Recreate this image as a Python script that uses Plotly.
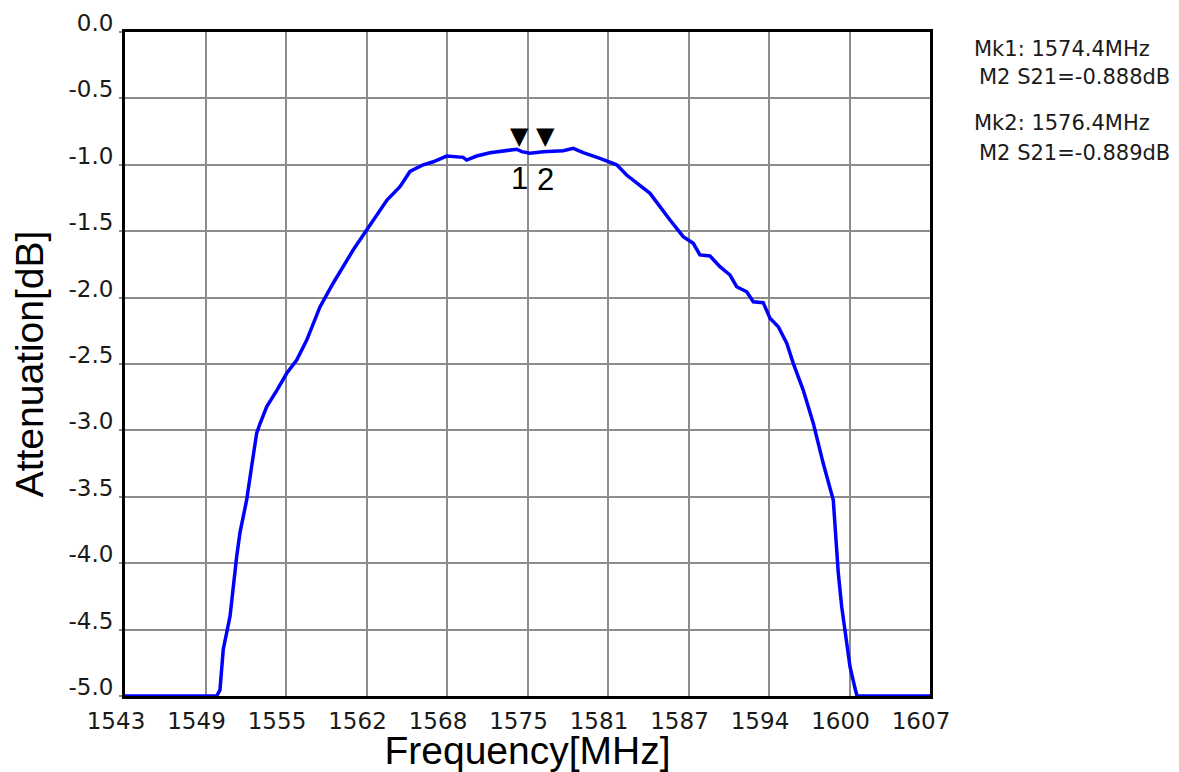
import plotly.graph_objects as go

# ---- data ----
freq_mhz = [1543.0, 1550.29, 1550.55, 1550.81, 1551.35, 1551.61, 1551.88, 1552.14, 1552.68,
            1553.07, 1553.47, 1553.73, 1554.27, 1555.06, 1555.86, 1556.65, 1557.45, 1558.50,
            1559.56, 1561.15, 1562.22, 1563.83, 1564.86, 1565.66, 1566.71, 1567.51, 1568.57,
            1569.89, 1570.16, 1570.96, 1572.02, 1573.61, 1574.14, 1574.54, 1575.20, 1576.25,
            1577.84, 1578.64, 1579.43, 1580.76, 1582.09, 1582.88, 1584.74, 1586.33, 1587.38,
            1588.18, 1588.71, 1589.51, 1590.30, 1591.10, 1591.63, 1592.43, 1592.95, 1593.74,
            1594.28, 1594.94, 1595.61, 1596.13, 1596.92, 1597.72, 1598.51, 1599.31, 1599.44,
            1599.71, 1599.98, 1600.37, 1600.64, 1601.04, 1601.20, 1607.0]
atten_db = [-5.0, -5.0, -4.955, -4.65, -4.40, -4.15, -3.95, -3.77, -3.52,
            -3.27, -3.02, -2.95, -2.82, -2.70, -2.57, -2.47, -2.32, -2.07,
            -1.89, -1.64, -1.49, -1.265, -1.165, -1.05, -1.0, -0.977, -0.934,
            -0.944, -0.964, -0.934, -0.909, -0.894, -0.883, -0.901, -0.913, -0.901,
            -0.894, -0.876, -0.909, -0.951, -1.0, -1.077, -1.215, -1.416, -1.541,
            -1.591, -1.679, -1.687, -1.767, -1.83, -1.918, -1.956, -2.031, -2.038,
            -2.156, -2.219, -2.344, -2.495, -2.696, -2.946, -3.248, -3.524, -3.725,
            -4.076, -4.327, -4.578, -4.779, -4.942, -5.0, -5.0]

marker_freq = [1574.4, 1576.4]
marker_s21 = [-0.888, -0.889]
marker_ids = ["1", "2"]
marker_lines = [["Mk1: 1574.4MHz", "M2 S21=-0.888dB"],
                ["Mk2: 1576.4MHz", "M2 S21=-0.889dB"]]

x_tickvals = [1543, 1549.4, 1555.8, 1562.2, 1568.6, 1575, 1581.4, 1587.8, 1594.2, 1600.6, 1607]
x_ticktext = ["1543", "1549", "1555", "1562", "1568", "1575", "1581", "1587", "1594", "1600", "1607"]
y_tickvals = [0, -0.5, -1.0, -1.5, -2.0, -2.5, -3.0, -3.5, -4.0, -4.5, -5.0]
y_ticktext = ["0.0", "-0.5", "-1.0", "-1.5", "-2.0", "-2.5", "-3.0", "-3.5", "-4.0", "-4.5", "-5.0"]

TICKFONT = dict(family="DejaVu Sans", size=23, color="#1a1a1a")
TITLEFONT = dict(family="Liberation Sans, Arial", size=39, color="black")

fig = go.Figure()
fig.add_trace(go.Scatter(x=freq_mhz, y=atten_db, mode="lines",
                         line=dict(color="#0000FF", width=3.5),
                         cliponaxis=False, hoverinfo="skip", showlegend=False))

annotations = []
for f, s, lab in zip(marker_freq, marker_s21, marker_ids):
    annotations.append(dict(x=f, y=s, xref="x", yref="y", text="▼", showarrow=False,
                            yshift=14, font=dict(family="DejaVu Sans", size=24, color="black")))
    annotations.append(dict(x=f, y=s, xref="x", yref="y", text=lab, showarrow=False,
                            yshift=-29, font=dict(family="Liberation Sans, Arial", size=31, color="black")))

info_x = [[1.0522, 1.0584], [1.0522, 1.0584]]
info_y = [[0.9744, 0.9315], [0.8637, 0.8185]]
for gi, group in enumerate(marker_lines):
    for li, txt in enumerate(group):
        annotations.append(dict(x=info_x[gi][li], y=info_y[gi][li], xref="paper", yref="paper",
                                text=txt, showarrow=False, xanchor="left", yanchor="middle",
                                font=dict(family="DejaVu Sans", size=21, color="#1a1a1a")))

fig.update_layout(
    width=1171, height=764,
    margin=dict(l=117, r=249, t=24, b=76),
    paper_bgcolor="white", plot_bgcolor="white",
    annotations=annotations,
    xaxis=dict(range=[1543, 1607], tickvals=x_tickvals, ticktext=x_ticktext,
               showgrid=True, gridcolor="#8c8c8c", gridwidth=2,
               showline=True, linecolor="black", linewidth=3, mirror=True,
               zeroline=False, ticks="", tickfont=TICKFONT,
               ticklabelshift=-9, ticklabelstandoff=2,
               layer="below traces",
               title=dict(text="Frequency[MHz]", font=TITLEFONT, standoff=0),
               automargin=False, fixedrange=True),
    yaxis=dict(range=[-5, 0], tickvals=y_tickvals, ticktext=y_ticktext,
               showgrid=True, gridcolor="#8c8c8c", gridwidth=2,
               showline=True, linecolor="black", linewidth=3, mirror=True,
               zeroline=False, ticks="outside", ticklen=3, tickwidth=2, tickcolor="#8c8c8c",
               tickfont=TICKFONT,
               ticklabelshift=-9, ticklabelstandoff=1,
               layer="below traces",
               title=dict(text="Attenuation[dB]", font=TITLEFONT, standoff=13),
               automargin=False, fixedrange=True),
)

fig.write_html("out.html")
